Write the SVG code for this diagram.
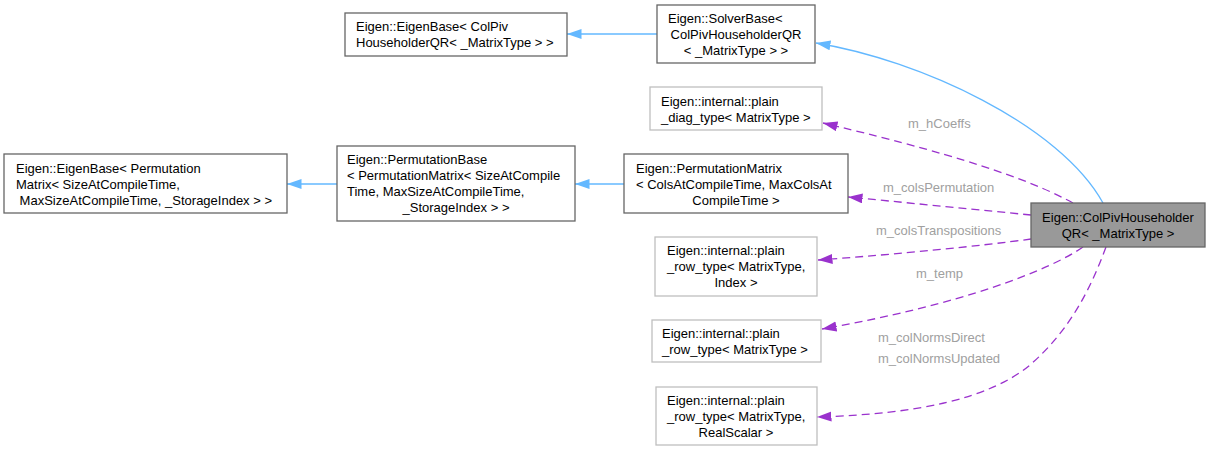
<svg xmlns="http://www.w3.org/2000/svg" width="1211" height="451" viewBox="0 0 1211 451">
<style>
  text { font-family: "Liberation Sans", Arial, sans-serif; font-size: 13px; fill: #000; }
  .lbl { fill: #a0a0a0; }
  .mid { text-anchor: middle; }
  .dark { fill: #fff; stroke: #666666; stroke-width: 1.3; }
  .light { fill: #fff; stroke: #bfbfbf; stroke-width: 1.3; }
  .main { fill: #999999; stroke: #666666; stroke-width: 1.3; }
  .inh { fill: none; stroke: #63b8ff; stroke-width: 1.3; marker-end: url(#ab); }
  .use { fill: none; stroke: #9a32cd; stroke-width: 1.3; stroke-dasharray: 8 5; marker-end: url(#ap); }
</style>
<defs>
  <marker id="ab" markerUnits="userSpaceOnUse" markerWidth="16" markerHeight="11" refX="14.5" refY="5" orient="auto">
    <path d="M0,0 L14.5,5 L0,10 z" fill="#63b8ff"/>
  </marker>
  <marker id="ap" markerUnits="userSpaceOnUse" markerWidth="16" markerHeight="11" refX="14.5" refY="5" orient="auto">
    <path d="M0,0 L14.5,5 L0,10 z" fill="#9a32cd"/>
  </marker>
</defs>
<rect width="1211" height="451" fill="#fff"/>
<g id="connectors">
  <path class="inh" d="M657,34 L567,34"/>
  <path class="inh" d="M337,184 L287,184"/>
  <path class="inh" d="M624,184 L575,184"/>
  <path class="inh" d="M1103,203 C1060,125 920,60 816,43"/>
  <path class="use" d="M1073,203 C1040,185 980,160 823,123"/>
  <path class="use" d="M1031,215 C980,210 920,204 848,197"/>
  <path class="use" d="M1031,239 C980,246 900,254 818,260"/>
  <path class="use" d="M1083,247 C1050,270 960,305 822,329"/>
  <path class="use" d="M1106,247 C1090,290 1070,330 1030,365 C990,398 920,414 817,417"/>
  <text class="lbl" x="908" y="127.5">m_hCoeffs</text>
  <text class="lbl" x="883" y="191.5">m_colsPermutation</text>
  <text class="lbl" x="876" y="234.5">m_colsTranspositions</text>
  <text class="lbl" x="916" y="277.5">m_temp</text>
  <text class="lbl" x="878" y="341.5">m_colNormsDirect</text>
  <text class="lbl" x="878" y="362.5">m_colNormsUpdated</text>
</g>
<g id="node-eigenbase-colpiv">
  <rect class="dark" x="345" y="13" width="222" height="43"/>
  <text x="356" y="31">Eigen::EigenBase&lt; ColPiv</text>
  <text x="356" y="47">HouseholderQR&lt; _MatrixType &gt; &gt;</text>
</g>
<g id="node-solverbase">
  <rect class="dark" x="657" y="5" width="158" height="58"/>
  <text x="668" y="22.5">Eigen::SolverBase&lt;</text>
  <text class="mid" x="736" y="38.5">ColPivHouseholderQR</text>
  <text class="mid" x="736" y="54.5">&lt; _MatrixType &gt; &gt;</text>
</g>
<g id="node-plain-diag">
  <rect class="light" x="650" y="87" width="172" height="43"/>
  <text x="661" y="106">Eigen::internal::plain</text>
  <text x="661" y="122">_diag_type&lt; MatrixType &gt;</text>
</g>
<g id="node-eigenbase-perm">
  <rect class="dark" x="4" y="154" width="283" height="59"/>
  <text x="16" y="172.5">Eigen::EigenBase&lt; Permutation</text>
  <text x="16" y="188.5">Matrix&lt; SizeAtCompileTime,</text>
  <text x="16" y="204.5" xml:space="preserve"> MaxSizeAtCompileTime, _StorageIndex &gt; &gt;</text>
</g>
<g id="node-permbase">
  <rect class="dark" x="337" y="146" width="238" height="75"/>
  <text x="347" y="164">Eigen::PermutationBase</text>
  <text x="347" y="180">&lt; PermutationMatrix&lt; SizeAtCompile</text>
  <text x="347" y="196">Time, MaxSizeAtCompileTime,</text>
  <text class="mid" x="456" y="212">_StorageIndex &gt; &gt;</text>
</g>
<g id="node-permmatrix">
  <rect class="dark" x="624" y="154" width="224" height="59"/>
  <text x="636" y="172.5">Eigen::PermutationMatrix</text>
  <text x="636" y="188.5">&lt; ColsAtCompileTime, MaxColsAt</text>
  <text class="mid" x="736" y="204.5">CompileTime &gt;</text>
</g>
<g id="node-colpiv">
  <rect class="main" x="1031" y="203" width="174" height="44"/>
  <text class="mid" x="1118" y="221.5">Eigen::ColPivHouseholder</text>
  <text class="mid" x="1118" y="237.5">QR&lt; _MatrixType &gt;</text>
</g>
<g id="node-plain-row-index">
  <rect class="light" x="655" y="237" width="162" height="59"/>
  <text x="667" y="255">Eigen::internal::plain</text>
  <text x="667" y="271">_row_type&lt; MatrixType,</text>
  <text class="mid" x="736" y="287">Index &gt;</text>
</g>
<g id="node-plain-row">
  <rect class="light" x="652" y="320" width="169" height="42"/>
  <text x="662" y="337.5">Eigen::internal::plain</text>
  <text x="662" y="353.5">_row_type&lt; MatrixType &gt;</text>
</g>
<g id="node-plain-row-real">
  <rect class="light" x="656" y="387" width="161" height="58"/>
  <text x="667" y="404.5">Eigen::internal::plain</text>
  <text x="667" y="420.5">_row_type&lt; MatrixType,</text>
  <text class="mid" x="736" y="436.5">RealScalar &gt;</text>
</g>
</svg>
